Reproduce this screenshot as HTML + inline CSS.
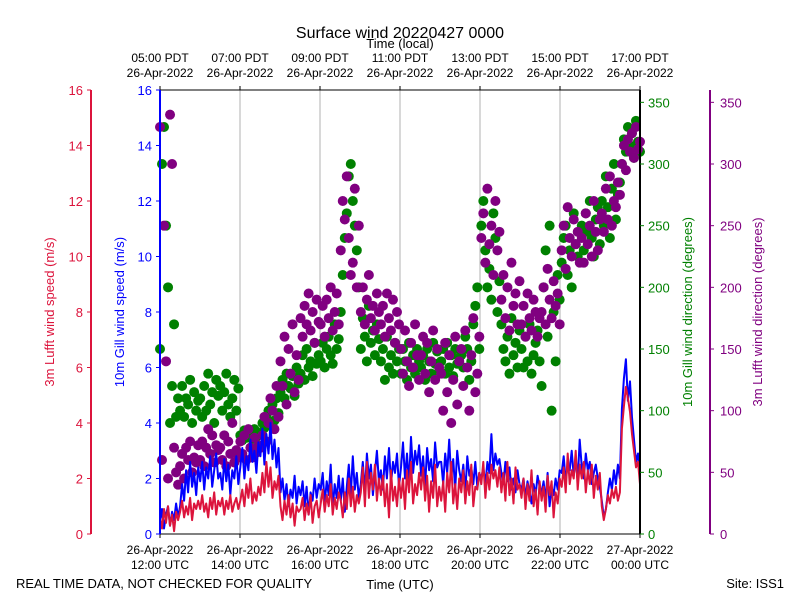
<!DOCTYPE html>
<html><head><meta charset="utf-8">
<style>
html,body{margin:0;padding:0;background:#fff;}
svg{display:block;font-family:"Liberation Sans","DejaVu Sans",sans-serif;}
</style></head>
<body>
<svg id="chart" width="800" height="600">
<text x="400" y="38" font-size="16" text-anchor="middle">Surface wind 20220427 0000</text>
<text x="400" y="48" font-size="13" text-anchor="middle">Time (local)</text>
<text x="400" y="589" font-size="13" text-anchor="middle">Time (UTC)</text>
<text x="16" y="588" font-size="13">REAL TIME DATA, NOT CHECKED FOR QUALITY</text>
<text x="784" y="588" font-size="13" text-anchor="end">Site: ISS1</text>
<text transform="translate(54,312) rotate(-90)" font-size="13" fill="#dc143c" text-anchor="middle">3m Lufft wind speed (m/s)</text>
<text transform="translate(124,312) rotate(-90)" font-size="13" fill="#0000ff" text-anchor="middle">10m Gill wind speed (m/s)</text>
<text transform="translate(692,312) rotate(-90)" font-size="13" fill="#008000" text-anchor="middle">10m Gill wind direction (degrees)</text>
<text transform="translate(762,312) rotate(-90)" font-size="13" fill="#800080" text-anchor="middle">3m Lufft wind direction (degrees)</text>
</svg>
<script>
const hourLabelsTop = ["05:00 PDT","07:00 PDT","09:00 PDT","11:00 PDT","13:00 PDT","15:00 PDT","17:00 PDT"];
const hourLabelsBottom = ["12:00 UTC","14:00 UTC","16:00 UTC","18:00 UTC","20:00 UTC","22:00 UTC","00:00 UTC"];
const dateLabelsTop = ["26-Apr-2022","26-Apr-2022","26-Apr-2022","26-Apr-2022","26-Apr-2022","26-Apr-2022","26-Apr-2022"];
const dateLabelsBottom = ["26-Apr-2022","26-Apr-2022","26-Apr-2022","26-Apr-2022","26-Apr-2022","26-Apr-2022","27-Apr-2022"];
const speedTicks = [0,2,4,6,8,10,12,14,16];
const dirTicks = [0,50,100,150,200,250,300,350];
// 20 samples per hour, 12:00 -> 00:00 UTC
const gillSpeed = [0.4,0.9,0.2,0.7,1.0,0.3,0.8,0.5,1.1,0.6,
1.0,1.8,1.2,2.3,1.5,2.6,1.7,2.2,1.4,2.4,
1.9,2.6,1.6,2.4,2.0,2.8,1.7,2.3,2.9,2.0,
2.2,1.6,2.7,1.9,2.5,1.4,2.3,2.0,2.8,1.8,
2.4,3.1,2.0,2.8,2.3,3.4,2.6,3.0,2.2,3.3,
2.8,3.8,2.5,3.6,2.9,4.0,2.7,3.4,2.4,3.1,
1.5,2.0,1.2,1.8,1.0,1.6,1.3,2.1,1.1,1.7,
1.4,1.9,1.0,1.7,0.7,1.5,1.2,2.0,1.3,1.8,
1.6,2.2,1.1,1.9,1.4,2.5,0.9,1.8,1.3,2.1,
1.2,2.0,0.8,1.7,2.5,1.4,2.8,1.6,2.2,1.3,
1.8,2.6,1.5,2.9,2.0,2.5,1.4,2.2,3.0,1.9,
2.3,1.6,2.8,2.0,3.1,1.8,2.6,2.2,2.9,1.7,
2.4,3.3,2.0,2.9,1.8,3.5,2.2,3.0,2.5,3.2,
2.1,2.8,1.7,3.1,2.3,2.7,1.9,3.3,2.4,2.6,
2.6,1.8,2.9,2.2,3.4,2.0,2.7,1.6,3.0,2.3,
1.9,2.5,1.5,2.8,2.1,2.4,1.8,2.6,1.7,2.2,
2.0,2.4,1.8,2.6,2.2,3.6,2.3,2.9,2.5,2.7,
2.2,1.8,2.6,1.9,2.4,1.6,2.0,1.5,2.3,1.8,
1.6,2.0,1.3,1.9,1.5,1.1,1.8,1.4,2.1,1.7,
1.5,1.9,1.2,2.2,1.0,1.7,1.4,2.0,1.6,2.3,
2.2,2.8,1.9,2.5,2.3,3.0,2.1,2.7,1.9,3.4,
2.4,2.0,2.9,2.3,2.6,1.8,2.2,2.5,2.0,1.7,
1.2,0.6,0.9,1.5,2.0,1.6,2.3,1.8,2.5,2.0,
4.5,5.6,6.3,4.8,5.5,4.2,3.4,2.6,2.9,2.0];
const lufftSpeed = [0.6,0.2,0.9,0.4,1.0,0.3,0.7,0.1,0.8,0.5,
0.8,1.2,0.6,1.0,0.7,1.3,0.5,1.1,0.9,1.2,
0.9,1.4,0.8,1.1,0.6,1.3,0.9,1.5,0.7,1.2,
1.0,1.3,0.7,1.2,0.9,1.4,0.8,1.1,1.3,0.9,
1.2,1.6,1.0,1.8,1.3,2.0,1.1,1.5,1.2,1.7,
1.4,2.2,1.5,2.6,1.7,2.4,1.3,1.9,1.6,2.1,
1.0,0.5,1.2,0.7,1.4,0.6,1.1,0.3,1.0,0.8,
0.9,1.3,0.5,1.1,0.7,1.4,0.4,1.0,1.2,0.6,
1.1,1.6,0.8,1.4,1.0,1.8,0.7,1.3,0.9,1.5,
1.2,0.6,1.5,0.9,2.0,1.0,1.7,0.8,1.4,1.1,
1.5,2.4,1.0,2.6,1.3,2.2,1.6,2.5,1.2,2.0,
1.4,2.1,1.0,1.8,0.6,2.3,1.2,1.7,1.0,2.0,
1.3,2.0,0.9,2.3,1.5,2.6,1.1,1.8,1.4,2.2,
1.6,2.4,1.2,2.1,0.8,1.9,1.3,2.5,1.0,1.7,
1.2,1.9,0.8,2.2,1.5,2.6,1.1,1.8,0.9,2.0,
1.5,2.3,1.1,1.9,1.4,2.5,1.0,1.7,1.6,2.2,
1.8,2.6,1.3,2.2,1.6,2.5,2.0,2.3,1.7,2.4,
1.5,2.2,1.2,2.6,1.4,2.0,1.1,2.4,1.6,1.8,
1.3,2.0,0.9,1.8,1.2,2.3,1.0,1.6,0.7,1.9,
1.2,1.7,0.8,2.1,1.4,1.9,0.6,1.5,1.1,2.0,
1.7,2.4,1.5,2.9,1.8,2.3,2.0,3.0,1.6,2.5,
2.0,2.6,1.5,2.3,1.8,2.5,1.3,2.1,1.6,2.2,
1.0,0.5,0.9,1.4,1.1,1.6,1.3,1.7,1.2,1.5,
3.8,4.6,5.3,4.9,4.4,3.6,3.0,2.4,2.6,1.8];
const gillDir = [150,300,330,250,200,90,120,170,95,110,
100,120,95,110,105,125,90,115,100,108,
110,95,120,100,130,105,115,90,125,112,
120,100,115,130,105,95,110,125,100,118,
80,76,84,78,82,80,77,85,79,81,
82,90,86,95,100,88,105,92,110,98,
115,125,110,130,120,118,128,112,135,122,
130,145,125,150,135,140,128,155,138,145,
140,155,135,150,160,145,138,170,150,158,
180,210,240,260,290,300,270,250,230,200,
150,175,160,140,185,155,165,145,170,158,
140,150,125,160,135,145,130,155,140,150,
130,150,140,125,155,135,145,130,150,140,
135,145,125,150,140,130,155,138,148,132,
140,150,130,155,135,145,128,150,138,143,
145,135,160,150,125,140,170,185,200,150,
250,270,230,200,215,190,260,240,180,205,
170,150,140,160,130,175,145,155,135,165,
150,135,160,140,170,130,145,155,165,140,
120,200,230,160,250,100,180,140,210,190,
220,240,250,210,230,200,260,235,225,245,
250,230,260,245,270,240,225,255,265,235,
270,250,290,265,240,280,300,255,275,285,
300,320,310,330,315,325,305,335,318,310];
const lufftDir = [330,60,250,140,45,340,300,70,50,40,
55,65,45,70,60,75,50,62,58,72,
60,75,55,70,85,65,80,58,72,68,
70,60,80,55,75,65,90,58,68,62,
75,65,80,60,85,70,62,78,66,72,
70,80,95,75,90,110,100,85,120,95,
140,120,160,105,150,130,170,115,145,125,
175,160,185,170,195,165,180,155,190,172,
170,185,160,190,175,200,165,180,195,170,
230,270,255,290,240,210,220,280,200,250,
180,200,170,190,210,175,185,165,195,180,
170,185,160,195,175,165,190,155,180,170,
150,130,165,140,120,155,135,170,145,125,
145,160,130,155,115,140,165,125,150,135,
130,100,155,115,145,90,125,160,105,140,
150,120,165,135,100,145,175,115,130,160,
240,260,220,280,235,250,210,270,230,245,
190,210,175,200,165,220,185,195,170,205,
170,185,160,195,175,165,190,180,160,175,
180,200,170,215,190,175,205,185,195,170,
230,250,215,265,240,225,255,235,245,220,
240,220,260,235,250,225,270,245,230,255,
260,245,280,255,290,250,270,265,285,275,
300,315,295,320,310,325,305,330,312,318];

const NS="http://www.w3.org/2000/svg";
const svg=document.getElementById('chart');
const X0=160,X1=640,Y0=534,Y1=90;
const xScale=h=>X0+(h/12)*(X1-X0);
const ySpeed=v=>Y0-(v/16)*(Y0-Y1);
const yDir=d=>Y0-(d/360)*(Y0-Y1);
const tOf=(i,n)=>i*12/(n-1);
function el(tag,attrs,parent){const e=document.createElementNS(NS,tag);for(const k in attrs)e.setAttribute(k,attrs[k]);(parent||svg).appendChild(e);return e;}
function txt(x,y,s,attrs){const e=el('text',Object.assign({x:x,y:y,'font-size':12},attrs||{}));e.textContent=s;return e;}

const grid=el('g',{});


for(let i=1;i<6;i++){const x=xScale(i*2);el('line',{x1:x,x2:x,y1:Y1,y2:Y0,stroke:'#b0b0b0','stroke-width':1},grid);}

function scatter(arr,color,name){const g=el('g',{});


arr.forEach((d,i)=>{el('circle',{cx:xScale(tOf(i,arr.length)),cy:yDir(d),r:5,fill:color},g);});}
scatter(gillDir,'#008000','gill-direction-points');
scatter(lufftDir,'#800080','lufft-direction-points');

function line(arr,color,name){const p=arr.map((v,i)=>(i?'L':'M')+xScale(tOf(i,arr.length)).toFixed(1)+','+ySpeed(v).toFixed(1)).join('');
const l=el('path',{d:p,fill:'none',stroke:color,'stroke-width':2,'stroke-linejoin':'round'});

}
line(gillSpeed,'#0000ff','gill-speed-line');
line(lufftSpeed,'#dc143c','lufft-speed-line');

el('line',{x1:X0,x2:X1,y1:Y1,y2:Y1,stroke:'#000'});
el('line',{x1:X0,x2:X1,y1:Y0,y2:Y0,stroke:'#000'});
el('line',{x1:X0,x2:X0,y1:Y1,y2:Y0,stroke:'#0000ff','stroke-width':2});
el('line',{x1:X1,x2:X1,y1:Y1,y2:Y0,stroke:'#000','stroke-width':2});
el('line',{x1:91,x2:91,y1:Y1,y2:Y0,stroke:'#dc143c','stroke-width':2});
el('line',{x1:710,x2:710,y1:Y1,y2:Y0,stroke:'#800080','stroke-width':2});

hourLabelsBottom.forEach((s,i)=>{const x=xScale(i*2);
el('line',{x1:x,x2:x,y1:Y0,y2:Y0+4,stroke:'#000'});
el('line',{x1:x,x2:x,y1:Y1,y2:Y1-4,stroke:'#000'});
txt(x,554,dateLabelsBottom[i],{'text-anchor':'middle'});
txt(x,569,s,{'text-anchor':'middle'});
txt(x,62,hourLabelsTop[i],{'text-anchor':'middle'});
txt(x,77,dateLabelsTop[i],{'text-anchor':'middle'});});
speedTicks.forEach(v=>{const y=ySpeed(v);
el('line',{x1:160,x2:156,y1:y,y2:y,stroke:'#0000ff'});
txt(152,y+5,String(v),{'text-anchor':'end',fill:'#0000ff','font-size':13});
el('line',{x1:91,x2:87,y1:y,y2:y,stroke:'#dc143c'});
txt(83,y+5,String(v),{'text-anchor':'end',fill:'#dc143c','font-size':13});});
dirTicks.forEach(v=>{const y=yDir(v);
el('line',{x1:640,x2:644,y1:y,y2:y,stroke:'#008000'});
txt(648,y+5,String(v),{fill:'#008000','font-size':13});
el('line',{x1:710,x2:714,y1:y,y2:y,stroke:'#800080'});
txt(720,y+5,String(v),{fill:'#800080','font-size':13});});
</script>
</body></html>
